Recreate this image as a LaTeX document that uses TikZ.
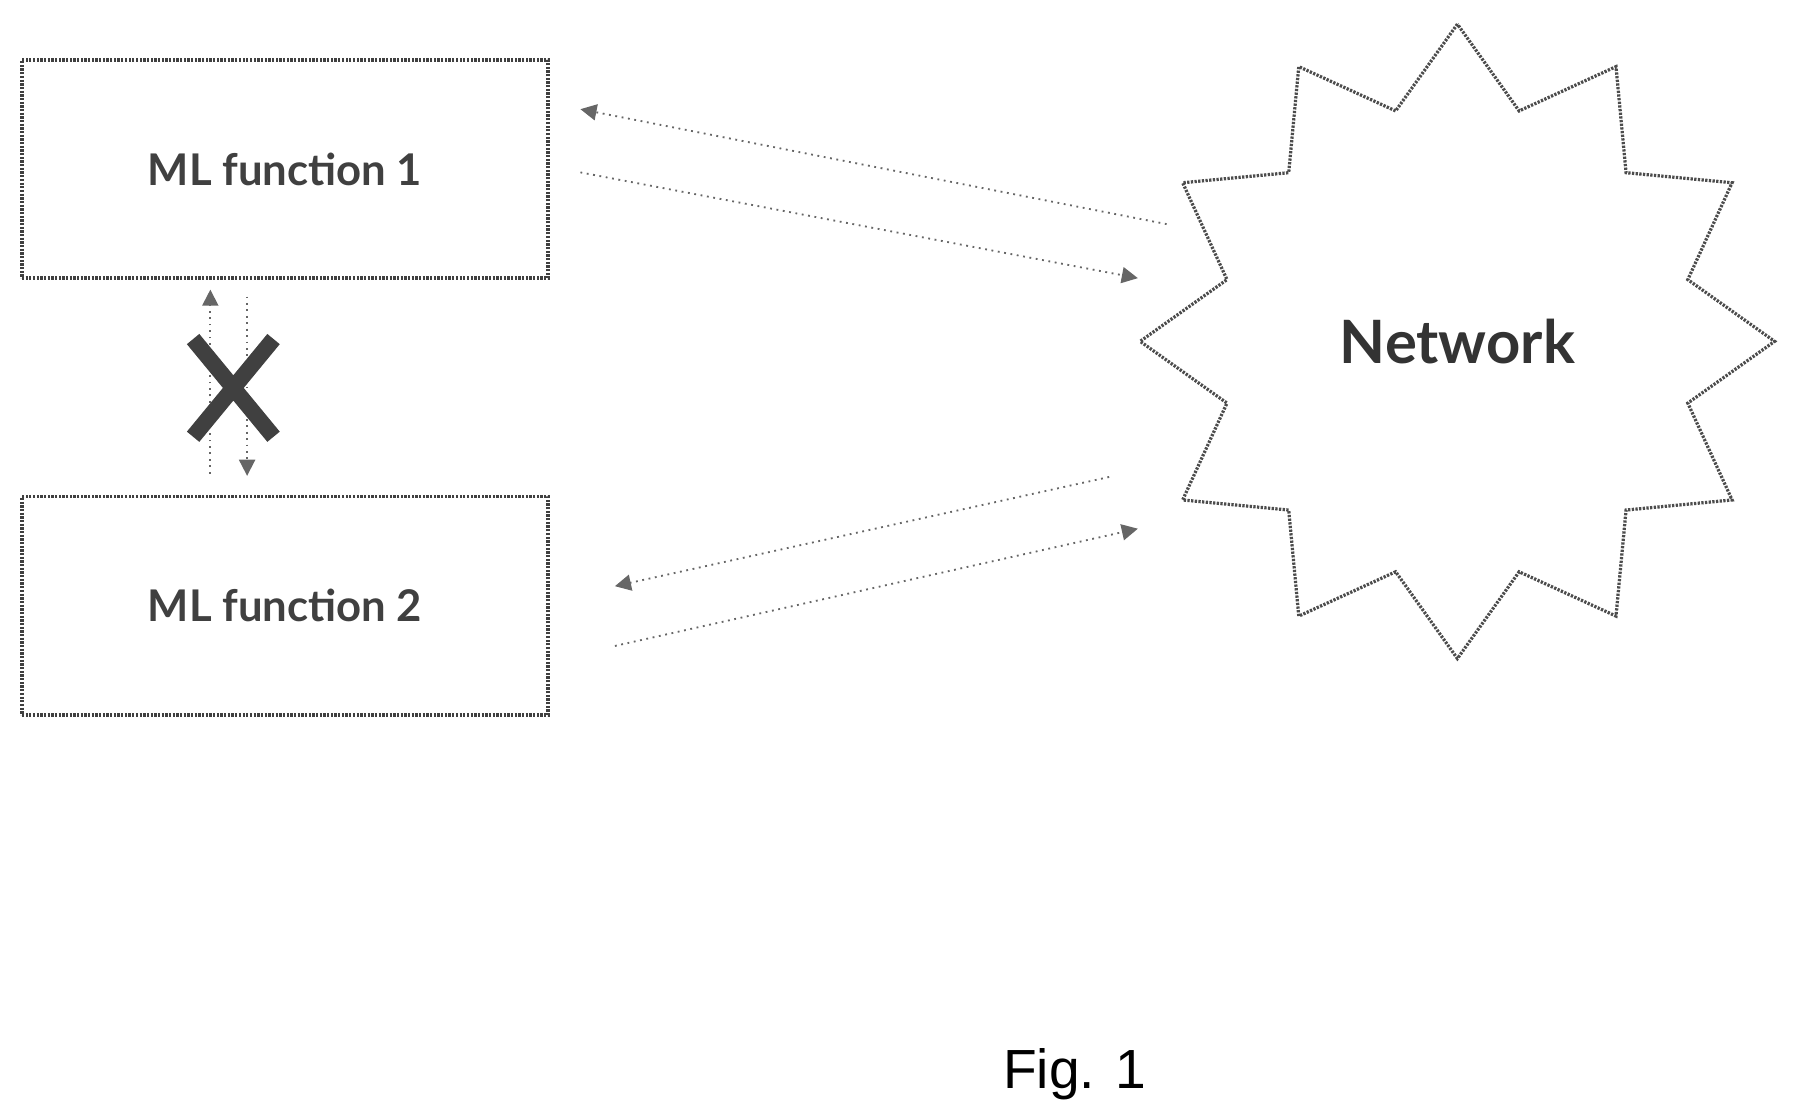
\documentclass[tikz,border=0pt]{standalone}
\usepackage{fontspec}
\setmainfont{Lato}
\newfontfamily\figfont{Liberation Sans}
\usetikzlibrary{shapes.geometric,arrows.meta}
\begin{document}
\begin{tikzpicture}[x=0.5pt,y=-0.5pt,
  box/.style={draw=black!75,line width=1.6pt,dash pattern=on 1pt off 0.6pt,minimum width=229pt,minimum height=95pt,inner sep=0pt,font=\bfseries\fontsize{19}{24}\selectfont\color{black!75}},
  link/.style={draw=black!60,line width=0.8pt,dotted,-{Triangle[length=7pt,width=7pt]}}]
\useasboundingbox (0,0) rectangle (1560,974);
\node[box] (m1) at (248,147) {ML function 1};
\node[box] (m2) at (248,527) {ML function 2};
\node[star,star points=12,star point ratio=1.33,draw=black!70,line width=1.4pt,dash pattern=on 1pt off 0.6pt,minimum size=276pt,inner sep=0pt,font=\bfseries\fontsize{26}{32}\selectfont\color{black!80}] (net) at (1268,297) {Network};
\coordinate (a1s) at (1015,195); \coordinate (a1e) at (505,95);
\coordinate (a2s) at (505,150); \coordinate (a2e) at (990,242);
\coordinate (a3s) at (965,415); \coordinate (a3e) at (535,510);
\coordinate (a4s) at (535,562); \coordinate (a4e) at (990,460);
\draw[link] (a1s) -- (a1e);
\draw[link] (a2s) -- (a2e);
\draw[link] (a3s) -- (a3e);
\draw[link] (a4s) -- (a4e);
\coordinate (v1s) at (183,412); \coordinate (v1e) at (183,252);
\coordinate (v2s) at (215,258); \coordinate (v2e) at (215,414);
\draw[link] (v1s) -- (v1e);
\draw[link] (v2s) -- (v2e);
\coordinate (x1) at (168,295); \coordinate (x2) at (238,380);
\coordinate (x3) at (238,295); \coordinate (x4) at (168,380);
\draw[black!75,line width=7pt] (x1) -- (x2) (x3) -- (x4);
\node[font=\figfont\fontsize{24}{28}\selectfont] (fig) at (935,935) {Fig. 1};
\end{tikzpicture}
\end{document}
